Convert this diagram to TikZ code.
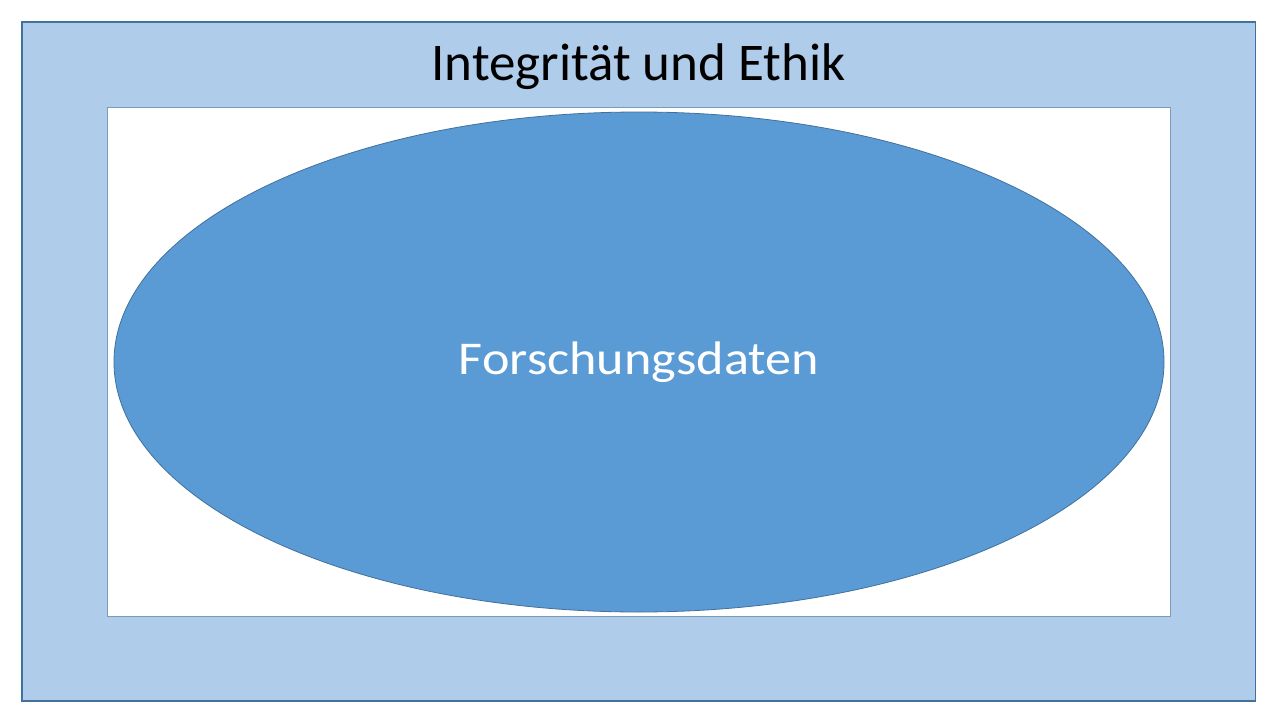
\documentclass[tikz,border=0pt]{standalone}
\usepackage{fontspec}
\usepackage{graphicx}
\setmainfont{Carlito}
\definecolor{outerfill}{HTML}{AFCDEA}
\definecolor{edgeblue}{HTML}{41719C}
\definecolor{ellfill}{HTML}{5B9BD5}
\begin{document}
\begin{tikzpicture}[x=1pt,y=-1pt,
  outerbox/.style={draw=edgeblue,fill=outerfill,line width=1.2pt},
  innerbox/.style={draw=edgeblue!70,fill=white,line width=0.8pt},
  blob/.style={draw=edgeblue,fill=ellfill,line width=0.8pt},
  title/.style={anchor=base,inner sep=0pt,font=\fontsize{53}{64}\selectfont,text=black},
  label/.style={anchor=base,inner sep=0pt,font=\fontsize{47}{56}\selectfont,text=white}]
\useasboundingbox (0,0) rectangle (1280,720);
\fill[white] (0,0) rectangle (1280,720);
\draw[outerbox] (22,22) rectangle (1255.5,701);
\draw[innerbox] (107,107) rectangle (1170.5,616);
\draw[blob] (639,362) ellipse [x radius=525, y radius=250];
\node[title] (t) at (638.5,80.5) {Integrität und Ethik};
\node[label] (f) at (639,374) {\resizebox{360pt}{\height}{Forschungsdaten}};
\end{tikzpicture}
\end{document}
